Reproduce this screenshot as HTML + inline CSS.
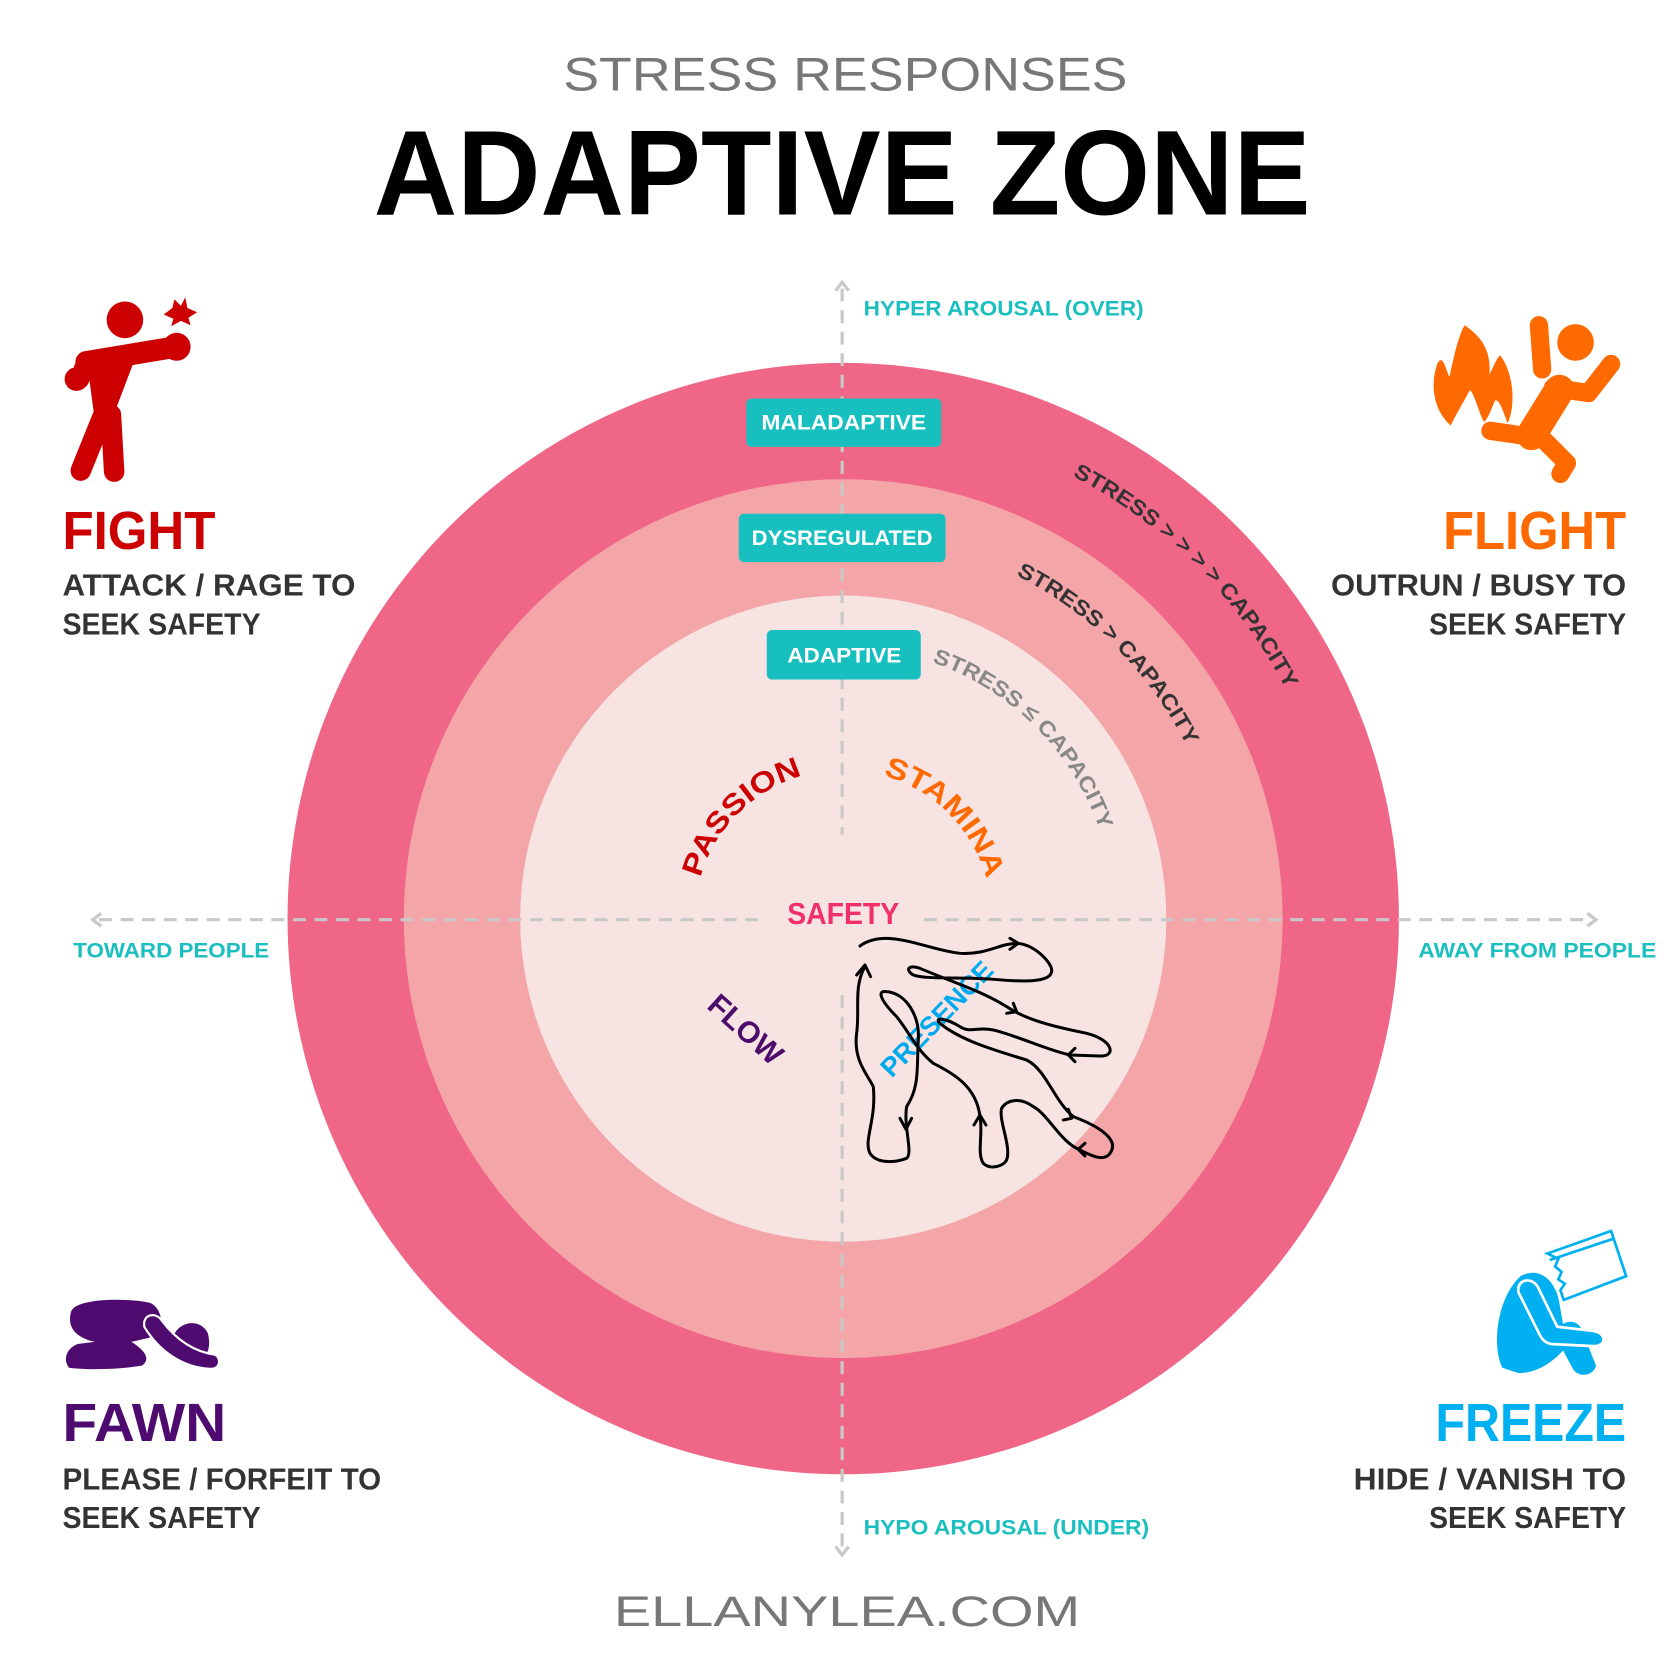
<!DOCTYPE html>
<html><head><meta charset="utf-8"><style>
html,body{margin:0;padding:0;background:#fff}
svg{display:block}
text{font-family:"Liberation Sans",sans-serif;font-weight:bold}
</style></head><body>
<svg width="1680" height="1680" viewBox="0 0 1560 1560" xmlns="http://www.w3.org/2000/svg">
<rect width="1560" height="1560" fill="#fff"/>
<defs>
<path id="aO" d="M783,390 A463,463 0 0 1 1246,853"/>
<path id="aM" d="M783,496 A357,357 0 0 1 1140,853"/>
<path id="aI" d="M783,601 A252,252 0 0 1 1035,853"/>
<path id="aP" d="M645,853 A138,138 0 0 1 783,715"/>
<path id="aS" d="M783,715 A138,138 0 0 1 921,853"/>
</defs>
<text x="523" y="84" font-size="44" fill="#777" style="font-weight:normal" textLength="524" lengthAdjust="spacingAndGlyphs">STRESS RESPONSES</text>
<text x="347" y="199" font-size="112" fill="#000" textLength="870" lengthAdjust="spacingAndGlyphs">ADAPTIVE ZONE</text>

<circle cx="783" cy="853" r="516" fill="#f06687"/>
<circle cx="783" cy="853" r="408" fill="#f4a5a8"/>
<circle cx="783" cy="853" r="300" fill="#f8e3e3"/>

<g stroke="#c8c8c8" stroke-width="3" stroke-dasharray="12,8" fill="none">
<line x1="782" y1="268" x2="782" y2="775"/>
<line x1="782" y1="924" x2="782" y2="1440"/>
<line x1="92" y1="854" x2="706" y2="854"/>
<line x1="858" y1="854" x2="1476" y2="854"/>
</g>
<g stroke="#c8c8c8" stroke-width="3" fill="none">
<polyline points="776,270 782,262 788,270"/>
<polyline points="776,1436 782,1444 788,1436"/>
<polyline points="94,848 86,854 94,860"/>
<polyline points="1474,848 1482,854 1474,860"/>
</g>

<g fill="#1bbfbf" font-size="20">
<text x="802" y="293" textLength="260" lengthAdjust="spacingAndGlyphs">HYPER AROUSAL (OVER)</text>
<text x="802" y="1425" textLength="265" lengthAdjust="spacingAndGlyphs">HYPO AROUSAL (UNDER)</text>
<text x="68" y="889" textLength="182" lengthAdjust="spacingAndGlyphs">TOWARD PEOPLE</text>
<text x="1317" y="889" textLength="221" lengthAdjust="spacingAndGlyphs">AWAY FROM PEOPLE</text>
</g>

<rect x="693" y="370" width="181" height="45" rx="5" fill="#17bfbf"/>
<rect x="686" y="477" width="192" height="45" rx="5" fill="#17bfbf"/>
<rect x="712" y="585" width="143" height="46" rx="5" fill="#17bfbf"/>
<g fill="#fff" font-size="20">
<text x="707" y="399" textLength="153" lengthAdjust="spacingAndGlyphs">MALADAPTIVE</text>
<text x="698" y="506" textLength="168" lengthAdjust="spacingAndGlyphs">DYSREGULATED</text>
<text x="731" y="615" textLength="106" lengthAdjust="spacingAndGlyphs">ADAPTIVE</text>
</g>

<text font-size="20" fill="#333" text-anchor="middle"><textPath href="#aO" startOffset="50%" textLength="285" lengthAdjust="spacingAndGlyphs">STRESS &gt; &gt; &gt; &gt; CAPACITY</textPath></text>
<text font-size="20" fill="#333" text-anchor="middle"><textPath href="#aM" startOffset="50%" textLength="228" lengthAdjust="spacingAndGlyphs">STRESS &gt; CAPACITY</textPath></text>
<text font-size="20" fill="#888" text-anchor="middle"><textPath href="#aI" startOffset="50%" textLength="228" lengthAdjust="spacingAndGlyphs">STRESS ≤ CAPACITY</textPath></text>
<text font-size="27" fill="#cc0000" text-anchor="middle"><textPath href="#aP" startOffset="50%" textLength="140" lengthAdjust="spacingAndGlyphs">PASSION</textPath></text>
<text font-size="27" fill="#ff6a00" text-anchor="middle"><textPath href="#aS" startOffset="50%" textLength="142" lengthAdjust="spacingAndGlyphs">STAMINA</textPath></text>

<text x="783" y="858" font-size="28" fill="#f0306a" text-anchor="middle" textLength="104" lengthAdjust="spacingAndGlyphs">SAFETY</text>
<text transform="translate(686,963) rotate(42)" font-size="28" fill="#4b0c6b" text-anchor="middle">FLOW</text>
<text transform="translate(876,952) rotate(-46)" font-size="25" fill="#00aaee" text-anchor="middle" textLength="138" lengthAdjust="spacingAndGlyphs">PRESENCE</text>

<g transform="translate(761.4,835.7) scale(0.3095)" fill="none" stroke="#000" stroke-width="9" stroke-linecap="round" stroke-linejoin="round">
<path d="M120,138 C200,80 320,150 420,160 C500,165 540,130 590,130 C640,130 700,190 695,215 C690,250 600,245 520,238 C420,230 300,240 275,222 C255,205 270,195 300,205 C380,240 480,270 560,320 C620,360 700,380 800,400 C880,420 890,470 840,468 L750,465 C680,450 600,410 520,390 C470,380 450,400 420,380 C380,355 340,350 360,370 C420,420 520,450 620,480 C680,510 700,600 760,650 C840,680 900,720 870,760 C850,790 800,760 770,745 C720,720 680,640 640,620 C600,590 560,600 545,625 C535,660 575,740 560,780 C550,800 510,810 490,790 C470,760 490,700 480,650 C470,560 400,520 340,490 C290,450 270,400 230,350 C180,300 170,270 200,275 C260,280 300,350 295,420 C290,500 300,560 260,620 C250,680 280,760 260,775 C220,790 170,790 150,760 C130,720 170,660 160,560 C140,520 100,480 110,400 C120,330 100,260 135,200"/>
<path d="M570,115 L595,130 L570,148"/>
<path d="M560,340 L590,335 L580,310"/>
<path d="M765,445 L745,465 L765,485"/>
<path d="M730,660 L755,655 L745,628"/>
<path d="M795,730 L775,748 L795,768"/>
<path d="M462,675 L480,645 L498,675"/>
<path d="M240,655 L258,688 L275,655"/>
<path d="M110,225 L135,195 L152,230"/>
</g>

<!-- FIGHT icon -->
<g fill="#cc0000" stroke="#cc0000" stroke-linecap="round">
<circle cx="116" cy="297" r="17" stroke="none"/>
<line x1="80" y1="336" x2="158" y2="323" stroke-width="20"/>
<circle cx="164" cy="322" r="13" stroke="none"/>
<line x1="80" y1="336" x2="74" y2="352" stroke-width="18"/>
<circle cx="71" cy="352" r="11" stroke="none"/>
<polygon points="80,330 128,326 103,392 88,390" stroke="none"/>
<line x1="96" y1="385" x2="75" y2="437" stroke-width="19"/>
<line x1="103" y1="385" x2="106" y2="438" stroke-width="19"/>
<polygon points="152,292 160,286 162,278 168,284 172,276 174,286 183,290 175,295 177,302 168,298 159,303 161,296" stroke="none"/>
</g>

<!-- FLIGHT icon -->
<g fill="#ff6a00" stroke="#ff6a00" stroke-linecap="round" stroke-linejoin="round">
<path stroke="none" d="M1347,395 C1330,380 1328,355 1335,337 C1340,328 1343,345 1346,350 C1350,330 1355,310 1360,302 C1375,312 1385,325 1383,348 C1388,338 1390,332 1393,330 C1405,345 1408,375 1400,393 C1395,380 1392,370 1388,372 C1385,380 1382,388 1378,392 C1372,380 1370,368 1365,362 C1358,375 1352,385 1347,395 Z"/>
<circle cx="1463" cy="318" r="17" stroke="none"/>
<line x1="1429" y1="302" x2="1432" y2="343" stroke-width="17"/>
<polyline points="1442,360 1475,365 1496,338" stroke-width="17" fill="none"/>
<line x1="1448" y1="362" x2="1422" y2="404" stroke-width="28"/>
<line x1="1418" y1="405" x2="1384" y2="400" stroke-width="17"/>
<polyline points="1430,405 1455,430 1449,440" stroke-width="17" fill="none"/>
</g>

<!-- FAWN icon -->
<g fill="#4e0a6e">
<path d="M66,1218 C70,1205 120,1205 140,1210 C150,1215 152,1230 148,1240 L122,1246 C135,1254 140,1262 132,1268 C110,1272 80,1272 64,1270 C58,1262 62,1252 72,1248 L88,1246 C70,1242 62,1232 66,1218 Z"/>
<path d="M160,1245 C162,1228 185,1222 193,1238 C196,1250 193,1258 188,1260 L160,1258 Z"/>
<path d="M134,1232 C132,1220 145,1218 150,1226 C162,1242 178,1255 200,1258 C206,1262 204,1272 195,1271 C170,1270 148,1255 134,1232 Z" stroke="#fff" stroke-width="2"/>
</g>

<!-- FREEZE icon -->
<g fill="#00b0f0">
<path d="M1395,1270 C1385,1250 1390,1205 1412,1185 C1430,1175 1445,1190 1448,1210 L1455,1250 C1445,1262 1430,1275 1410,1275 Z"/>
<path d="M1444,1240 C1448,1225 1466,1222 1470,1238 L1482,1268 C1480,1278 1465,1280 1460,1270 Z"/>
<path d="M1410,1200 C1408,1188 1422,1185 1428,1195 L1446,1232 L1480,1236 C1492,1238 1492,1250 1480,1250 L1440,1248 C1432,1246 1430,1240 1428,1236 Z" stroke="#fff" stroke-width="2.5"/>
</g>
<g fill="#fff" stroke="#00b0f0" stroke-width="2.5">
<path d="M1437,1164 L1496,1143 L1510,1185 L1452,1207 L1449,1198 L1453,1192 L1447,1188 L1450,1181 L1444,1176 L1447,1169 Z"/>
<line x1="1439" y1="1170" x2="1499" y2="1150" fill="none"/>
</g>

<!-- Corner labels -->
<text x="58" y="510" font-size="50" fill="#cc0000" textLength="142" lengthAdjust="spacingAndGlyphs">FIGHT</text>
<text x="58" y="553" font-size="28" fill="#333" textLength="272" lengthAdjust="spacingAndGlyphs">ATTACK / RAGE TO</text>
<text x="58" y="589" font-size="28" fill="#333" textLength="184" lengthAdjust="spacingAndGlyphs">SEEK SAFETY</text>

<text x="1340" y="510" font-size="50" fill="#ff6a00" textLength="170" lengthAdjust="spacingAndGlyphs">FLIGHT</text>
<text x="1236" y="553" font-size="28" fill="#333" textLength="274" lengthAdjust="spacingAndGlyphs">OUTRUN / BUSY TO</text>
<text x="1327" y="589" font-size="28" fill="#333" textLength="183" lengthAdjust="spacingAndGlyphs">SEEK SAFETY</text>

<text x="58" y="1338" font-size="50" fill="#4e0a6e" textLength="152" lengthAdjust="spacingAndGlyphs">FAWN</text>
<text x="58" y="1383" font-size="28" fill="#333" textLength="296" lengthAdjust="spacingAndGlyphs">PLEASE / FORFEIT TO</text>
<text x="58" y="1419" font-size="28" fill="#333" textLength="184" lengthAdjust="spacingAndGlyphs">SEEK SAFETY</text>

<text x="1333" y="1338" font-size="50" fill="#00b0f0" textLength="177" lengthAdjust="spacingAndGlyphs">FREEZE</text>
<text x="1257" y="1383" font-size="28" fill="#333" textLength="253" lengthAdjust="spacingAndGlyphs">HIDE / VANISH TO</text>
<text x="1327" y="1419" font-size="28" fill="#333" textLength="183" lengthAdjust="spacingAndGlyphs">SEEK SAFETY</text>

<text x="570" y="1510" font-size="40" fill="#777" style="font-weight:normal" textLength="433" lengthAdjust="spacingAndGlyphs">ELLANYLEA.COM</text>
</svg>
</body></html>
